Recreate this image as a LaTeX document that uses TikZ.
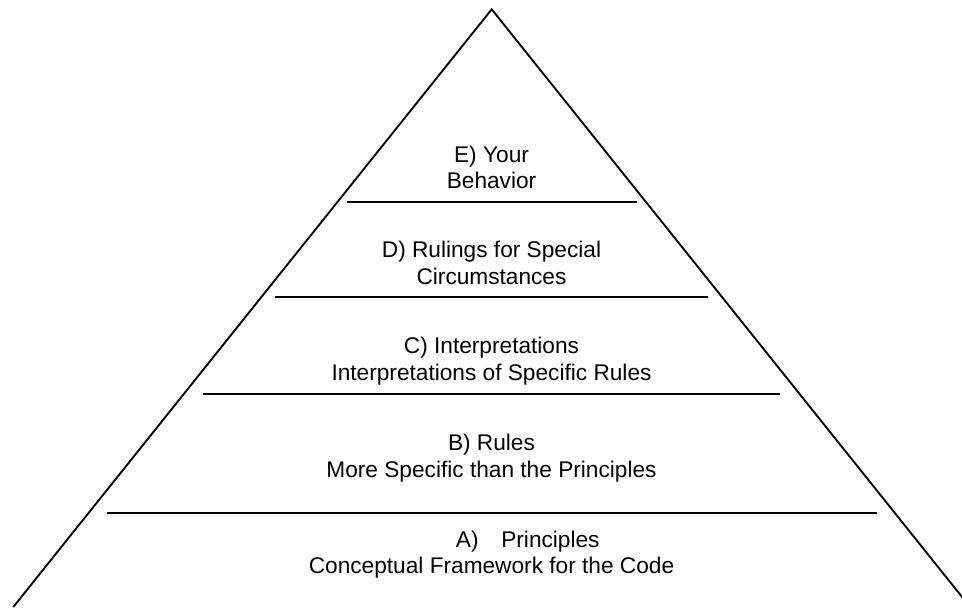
\documentclass[tikz,border=0pt]{standalone}
\usepackage{fontspec}
\setmainfont{Liberation Sans}
\begin{document}
\begin{tikzpicture}[x=0.75pt,y=-0.75pt,
  level/.style={align=center,anchor=base,inner sep=0pt,font=\fontsize{17}{19.7}\selectfont},
  edge/.style={line width=1.4pt}]

\clip (0,0) rectangle (962,607);

% outline of the pyramid
\draw[edge] (13.3,607)--(491.7,9.3)--(970.1,607);

% the steps
\draw[edge] (347,202)--(637,202);
\draw[edge] (275,297)--(708,297);
\draw[edge] (203,394)--(780,394);
\draw[edge] (107,513)--(877,513);

% base anchor sits on the last line
\node[level] (behavior) at (491.5,188.3) {E) Your\\Behavior};
\node[level] (rulings) at (491.5,284) {D) Rulings for Special\\Circumstances};
\node[level] (interp) at (491.5,380) {C) Interpretations\\Interpretations of Specific Rules};
\node[level] (rules) at (491.5,477) {B) Rules\\More Specific than the Principles};
\node[level] (princ) at (491.5,573.3) {\hspace*{3.2em}A)\quad Principles\\Conceptual Framework for the Code};

\end{tikzpicture}
\end{document}
